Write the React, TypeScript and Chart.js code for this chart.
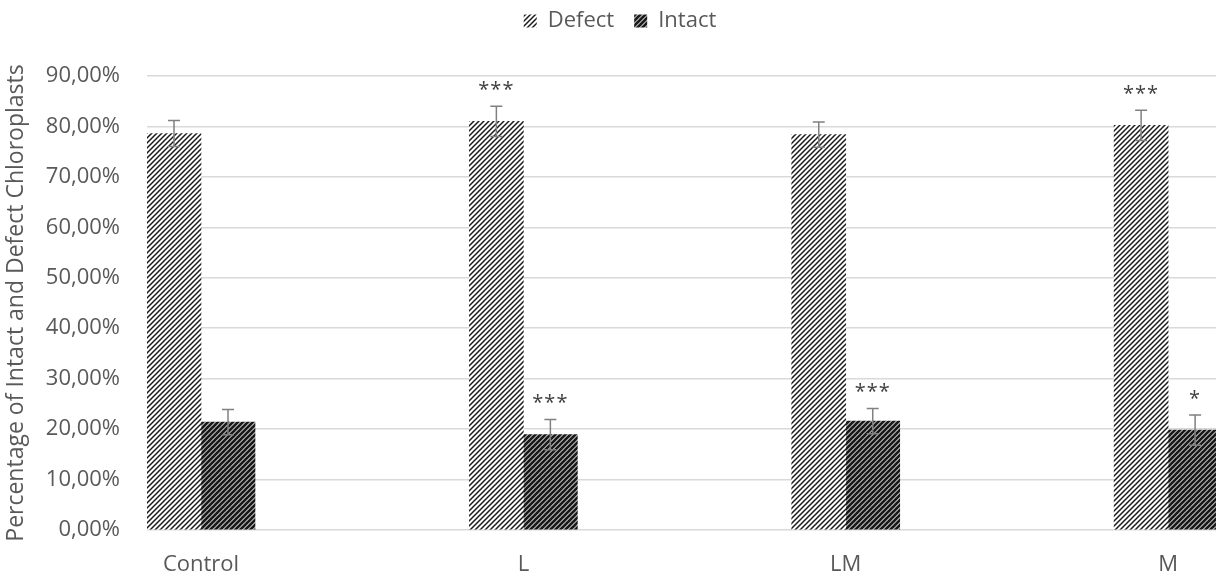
import React, { useEffect, useRef } from "react";
import { Chart, registerables } from "chart.js";

Chart.register(...registerables);

const categories = ["Control", "L", "LM", "M"];
const defectValues = [78.6, 81.0, 78.4, 80.2];
const defectErrors = [2.6, 3.0, 2.5, 3.0];
const defectSig = ["", "***", "", "***"];
const intactValues = [21.4, 18.9, 21.6, 19.8];
const intactErrors = [2.5, 3.0, 2.5, 3.0];
const intactSig = ["", "***", "***", "*"];
const yTicks = [0, 10, 20, 30, 40, 50, 60, 70, 80, 90];

const FONT = "'Open Sans', 'DejaVu Sans', sans-serif";
const TEXT = "#595959";

function makePattern(period: number, lw: number) {
  const c = document.createElement("canvas");
  c.width = period;
  c.height = period;
  const g = c.getContext("2d")!;
  g.fillStyle = "#ffffff";
  g.fillRect(0, 0, period, period);
  g.strokeStyle = "#1a1a1a";
  g.lineWidth = lw;
  g.beginPath();
  g.moveTo(-1, period + 1);
  g.lineTo(period + 1, -1);
  g.moveTo(-1, 1);
  g.lineTo(1, -1);
  g.moveTo(period - 1, period + 1);
  g.lineTo(period + 1, period - 1);
  g.stroke();
  return g.createPattern(c, "repeat")!;
}

const legendSpacer = {
  id: "legendSpacer",
  beforeInit(chart: any) {
    const legend = chart.legend;
    if (!legend) return;
    const origFit = legend.fit;
    legend.fit = function () {
      origFit.call(this);
      this.height += 34;
    };
  },
};

const errorPlugin = {
  id: "errorBars",
  afterDatasetsDraw(chart: any) {
    const ctx = chart.ctx;
    const y = chart.scales.y;
    const errs = [defectErrors, intactErrors];
    const sigs = [defectSig, intactSig];
    const vals = [defectValues, intactValues];
    ctx.save();
    for (let d = 0; d < 2; d++) {
      const meta = chart.getDatasetMeta(d);
      meta.data.forEach((bar: any, i: number) => {
        const v = vals[d][i];
        const e = errs[d][i];
        const top = y.getPixelForValue(v + e);
        const bot = y.getPixelForValue(v - e);
        const x = bar.x;
        ctx.strokeStyle = "#808080";
        ctx.lineWidth = 1.5;
        ctx.beginPath();
        ctx.moveTo(x, top);
        ctx.lineTo(x, bot);
        ctx.moveTo(x - 6, top);
        ctx.lineTo(x + 6, top);
        ctx.moveTo(x - 6, bot);
        ctx.lineTo(x + 6, bot);
        ctx.stroke();
        const s = sigs[d][i];
        if (s) {
          ctx.fillStyle = "#404040";
          ctx.font = `20px ${FONT}`;
          ctx.textAlign = "center";
          ctx.textBaseline = "middle";
          (ctx as any).letterSpacing = "1px";
          ctx.fillText(s, x, top - 16);
        }
      });
    }
    ctx.restore();
  },
};

export default function App() {
  const ref = useRef<HTMLCanvasElement>(null);
  useEffect(() => {
    document.body.style.margin = "0";
    document.body.style.overflow = "hidden";
    const defectPattern = makePattern(5, 1.5);
    const intactPattern = makePattern(5, 2.8);
    const chart = new Chart(ref.current!, {
      type: "bar",
      data: {
        datasets: [
          {
            label: "Defect",
            data: defectValues.map((v, i) => ({ x: i, y: v })),
            backgroundColor: defectPattern,
            borderWidth: 0,
            barThickness: 54,
          },
          {
            label: "Intact",
            data: intactValues.map((v, i) => ({ x: i, y: v })),
            backgroundColor: intactPattern,
            borderWidth: 0,
            barThickness: 54,
          },
        ],
      },
      options: {
        animation: false,
        responsive: true,
        maintainAspectRatio: false,
        layout: { padding: { top: -10, left: 0, right: 0, bottom: 0 } },
        plugins: {
          legend: {
            position: "top",
            labels: {
              boxWidth: 13,
              boxHeight: 13,
              padding: 20,
              color: TEXT,
              font: { family: FONT, size: 22 },
            },
          },
          tooltip: { enabled: false },
        },
        scales: {
          x: {
            type: "linear",
            offset: false,
            bounds: "data",
            min: -0.1675,
            max: 3.223,
            afterBuildTicks: (s: any) => {
              s.ticks = categories.map((_, i) => ({ value: i }));
            },
            afterFit: (s: any) => {
              s.height = 47;
            },
            grid: { display: false, offset: false },
            border: { display: false },
            ticks: {
              autoSkip: false,
              maxRotation: 0,
              padding: 14,
              color: TEXT,
              font: { family: FONT, size: 22 },
              callback: (v: any) => categories[v as number] ?? "",
            },
          },
          y: {
            min: 0,
            max: 90,
            afterBuildTicks: (s: any) => {
              s.ticks = yTicks.map((v) => ({ value: v }));
            },
            afterFit: (s: any) => {
              s.width = 147;
            },
            grid: { color: "#d9d9d9", lineWidth: 1.5, drawTicks: false },
            border: { display: false },
            ticks: {
              padding: 27,
              color: TEXT,
              font: { family: FONT, size: 22 },
              callback: (v: any) => (v as number).toFixed(2).replace(".", ",") + "%",
            },
            title: {
              display: true,
              text: "Percentage of Intact and Defect Chloroplasts",
              color: TEXT,
              font: { family: FONT, size: 23 },
              padding: { top: 3, bottom: 0 },
            },
          },
        },
      },
      plugins: [legendSpacer, errorPlugin],
    } as any);
    return () => chart.destroy();
  }, []);
  return (
    <div style={{ width: 1240, height: 577, position: "relative" }}>
      <canvas ref={ref} />
    </div>
  );
}
